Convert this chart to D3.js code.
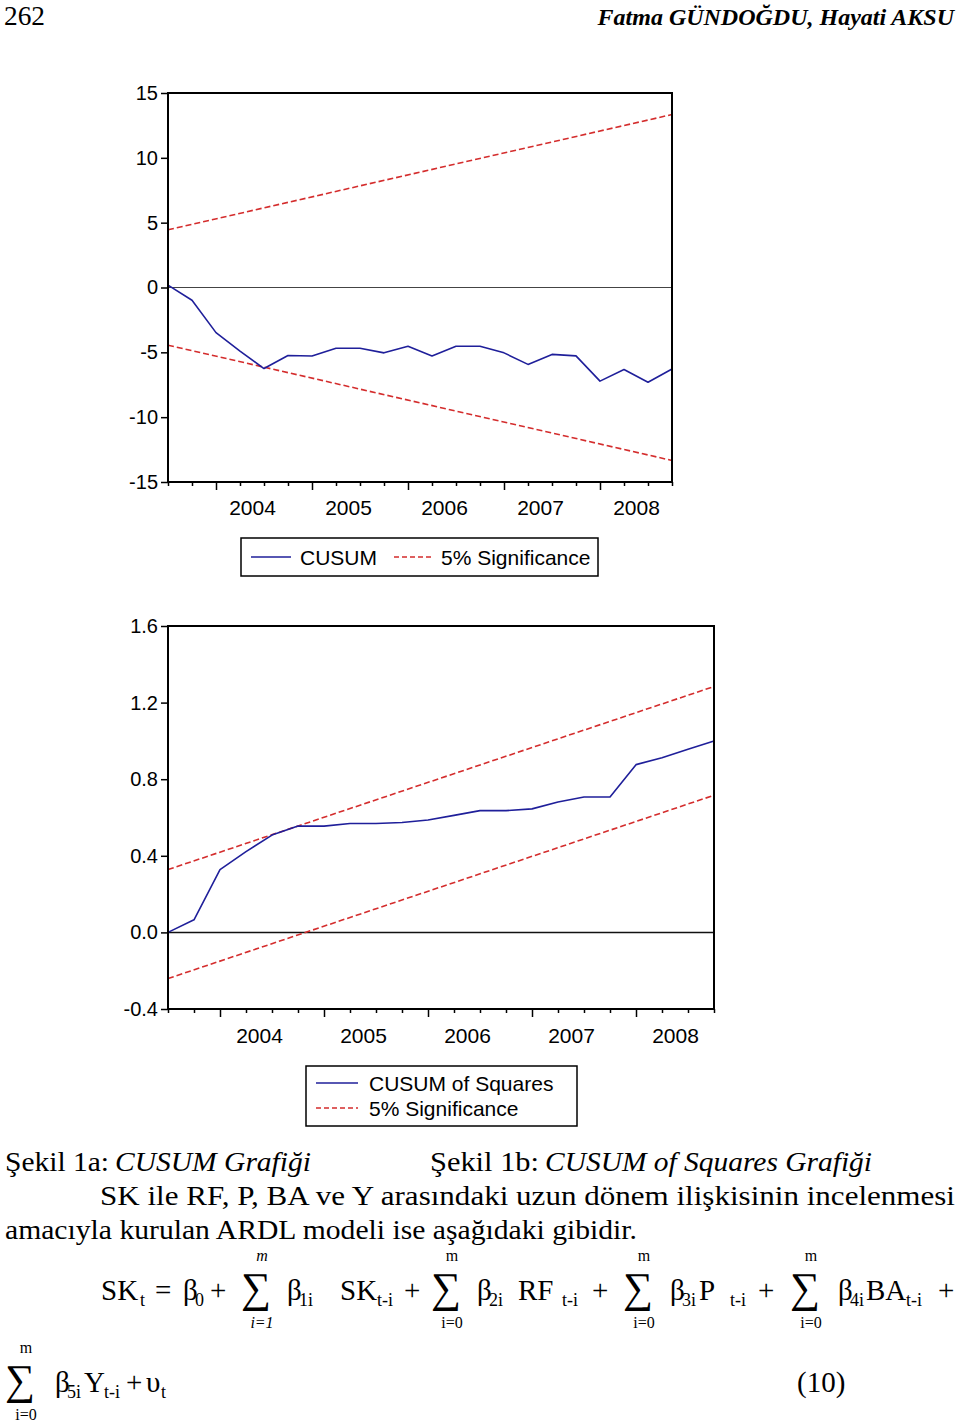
<!DOCTYPE html>
<html>
<head>
<meta charset="utf-8">
<script src="https://cdn.jsdelivr.net/npm/d3@7"></script>
<style>
  html, body { margin: 0; padding: 0; background: #fff; }
  svg { display: block; }
</style>
</head>
<body>
<script>
// ---------------- DATA ----------------
const quarters = ["2003Q3","2003Q4",
  "2004Q1","2004Q2","2004Q3","2004Q4",
  "2005Q1","2005Q2","2005Q3","2005Q4",
  "2006Q1","2006Q2","2006Q3","2006Q4",
  "2007Q1","2007Q2","2007Q3","2007Q4",
  "2008Q1","2008Q2","2008Q3","2008Q4"];
const years = ["2004","2005","2006","2007","2008"];

const cusum = [0.18,-0.98,-3.48,-4.90,-6.25,-5.25,-5.28,-4.68,-4.68,-5.04,-4.53,
               -5.28,-4.53,-4.53,-5.04,-5.93,-5.16,-5.27,-7.22,-6.33,-7.31,-6.28];
const cusumUpper = [4.45, 13.34];   // at first and last quarter
const cusumLower = [-4.45, -13.34];
const cusumTicks = [-15,-10,-5,0,5,10,15];

const cusumSq = [0.000,0.066,0.328,0.422,0.508,0.555,0.555,0.569,0.569,0.574,0.587,
                 0.611,0.636,0.636,0.645,0.681,0.707,0.707,0.876,0.912,0.957,1.000];
const cusumSqUpper = [0.328, 1.284];
const cusumSqLower = [-0.241, 0.716];
const cusumSqTicks = [-0.4,0.0,0.4,0.8,1.2,1.6];

// ---------------- STYLE ----------------
const BLUE = "#1f1f9a", RED = "#d42d2d";
const SANS = "'Liberation Sans', Arial, sans-serif";
const SERIF = "'Liberation Serif', 'Times New Roman', serif";

const svg = d3.select("body").append("svg")
  .attr("width", 960).attr("height", 1425)
  .style("background", "#fff");

const hyph = f => d => f(d).replace("\u2212", "-");

// ---------------- CHART ----------------
function drawChart(o) {
  const g = svg.append("g");
  const n = quarters.length;
  const x = d3.scaleLinear().domain([0, n - 1]).range([o.left, o.right]);
  const y = d3.scaleLinear().domain(o.yDomain).range([o.bottom, o.top]);

  // y axis
  const ya = g.append("g").attr("transform", `translate(${o.left},0)`)
    .call(d3.axisLeft(y).tickValues(o.yTicks).tickSize(7).tickPadding(3).tickFormat(o.yFmt));
  ya.select(".domain").remove();
  ya.selectAll(".tick line").attr("stroke", "#000").attr("stroke-width", 1.5);
  ya.selectAll(".tick text").attr("font-size", 20).attr("font-family", SANS).attr("fill", "#000");

  // x axis: quarter ticks
  const xa = g.append("g").attr("transform", `translate(0,${o.bottom})`)
    .call(d3.axisBottom(x).tickValues(d3.range(n)).tickSize(4).tickFormat(""));
  xa.select(".domain").remove();
  xa.selectAll(".tick line").attr("stroke", "#000").attr("stroke-width", 1.5)
    .attr("y2", d => quarters[d].endsWith("Q1") ? 8 : 4);

  // year labels centred over Q1..Q4
  const centers = years.map(yr => quarters.indexOf(yr + "Q1") + 1.5);
  const xl = g.append("g").attr("transform", `translate(0,${o.bottom})`)
    .call(d3.axisBottom(x).tickValues(centers).tickSize(0).tickPadding(o.labelPad)
      .tickFormat((d, i) => years[i]));
  xl.select(".domain").remove();
  xl.selectAll(".tick text").attr("font-size", 21).attr("font-family", SANS).attr("fill", "#000");

  // zero line
  g.append("line").attr("x1", o.left).attr("x2", o.right)
    .attr("y1", y(0)).attr("y2", y(0))
    .attr("stroke", o.zeroColor).attr("stroke-width", o.zeroWidth);

  // significance lines
  const ends = [0, n - 1];
  const line = d3.line().x(d => x(d[0])).y(d => y(d[1]));
  [o.upper, o.lower].forEach(b => {
    g.append("path").datum(ends.map((q, i) => [q, b[i]]))
      .attr("d", line).attr("fill", "none").attr("stroke", RED)
      .attr("stroke-width", 1.6).attr("stroke-dasharray", "6,3");
  });

  // main series
  g.append("path").datum(o.values.map((v, i) => [i, v]))
    .attr("d", line).attr("fill", "none").attr("stroke", BLUE)
    .attr("stroke-width", 1.6).attr("stroke-linejoin", "round");

  // frame
  g.append("rect").attr("x", o.left).attr("y", o.top)
    .attr("width", o.right - o.left).attr("height", o.bottom - o.top)
    .attr("fill", "none").attr("stroke", "#000").attr("stroke-width", 2);
}

drawChart({left: 168, right: 672, top: 93, bottom: 482,
  yDomain: [-15, 15], yTicks: cusumTicks, yFmt: hyph(d3.format("d")),
  values: cusum, upper: cusumUpper, lower: cusumLower,
  labelPad: 18, zeroColor: "#444", zeroWidth: 1.2});

drawChart({left: 168, right: 714, top: 626, bottom: 1009,
  yDomain: [-0.4, 1.6], yTicks: cusumSqTicks, yFmt: hyph(d3.format(".1f")),
  values: cusumSq, upper: cusumSqUpper, lower: cusumSqLower,
  labelPad: 19, zeroColor: "#111", zeroWidth: 1.5});

// ---------------- LEGENDS ----------------
function legendLine(x1, x2, yy, color, dashed) {
  svg.append("line").attr("x1", x1).attr("x2", x2).attr("y1", yy).attr("y2", yy)
    .attr("stroke", color).attr("stroke-width", 1.6)
    .attr("stroke-dasharray", dashed ? "5,3" : null);
}
function legendText(tx, yy, s) {
  svg.append("text").attr("x", tx).attr("y", yy).text(s)
    .attr("font-size", 21).attr("font-family", SANS).attr("fill", "#000");
}
svg.append("rect").attr("x", 241).attr("y", 538).attr("width", 357).attr("height", 38)
  .attr("fill", "none").attr("stroke", "#000").attr("stroke-width", 1.5);
legendLine(251, 291, 557, BLUE, false);
legendText(300, 565, "CUSUM");
legendLine(394, 434, 557, RED, true);
legendText(441, 565, "5% Significance");

svg.append("rect").attr("x", 306).attr("y", 1066).attr("width", 271).attr("height", 60)
  .attr("fill", "none").attr("stroke", "#000").attr("stroke-width", 1.5);
legendLine(316, 358, 1083, BLUE, false);
legendText(369, 1091, "CUSUM of Squares");
legendLine(316, 358, 1108, RED, true);
legendText(369, 1116, "5% Significance");

// ---------------- PAGE TEXT ----------------
function t(s, x, y, size, opts = {}) {
  const el = svg.append("text").attr("x", x).attr("y", y).text(s)
    .attr("font-size", size).attr("font-family", opts.family || SERIF).attr("fill", "#000");
  if (opts.italic) el.attr("font-style", "italic");
  if (opts.bold) el.attr("font-weight", "bold");
  if (opts.anchor) el.attr("text-anchor", opts.anchor);
  if (opts.len) el.attr("textLength", opts.len).attr("lengthAdjust", "spacingAndGlyphs");
  return el;
}
t("262", 4, 25, 27, {len: 41});
t("Fatma GÜNDOĞDU, Hayati AKSU", 954, 25, 24, {italic: true, bold: true, anchor: "end"});

t("Şekil 1a:", 5, 1171, 28, {len: 104});
t("CUSUM Grafiği", 115, 1171, 28, {italic: true, len: 196});
t("Şekil 1b:", 430, 1171, 28, {len: 109});
t("CUSUM of Squares Grafiği", 545, 1171, 28, {italic: true, len: 327});
t("SK ile RF, P, BA ve Y arasındaki uzun dönem ilişkisinin incelenmesi", 100, 1205, 28, {len: 855});
t("amacıyla kurulan ARDL modeli ise aşağıdaki gibidir.", 5, 1239, 28, {len: 632});

// ---------------- EQUATION ----------------
const EQ = 29, SUB = 18, LIM = 16;
function sigma(cx, base, top, low, italicTop, topLbl, lowLbl) {
  t("∑", cx, base, 42, {anchor: "middle"});
  t(topLbl, cx + 6, top, LIM, {anchor: "middle", italic: italicTop});
  t(lowLbl, cx + 6, low, LIM, {anchor: "middle", italic: italicTop});
}
const L1 = 1300, S1 = 1306;
t("SK", 101, L1, EQ); t("t", 140, S1, SUB);
t("=", 155, L1, EQ);
t("β", 183, L1, EQ); t("0", 195, S1, SUB);
t("+", 210, L1, EQ);
sigma(256, 1302, 1261, 1328, true, "m", "i=1");
t("β", 287, L1, EQ); t("1i", 299, S1, SUB);
t("SK", 340, L1, EQ); t("t-i", 377, S1, SUB);
t("+", 404, L1, EQ);
sigma(446, 1302, 1261, 1328, false, "m", "i=0");
t("β", 477, L1, EQ); t("2i", 489, S1, SUB);
t("RF", 518, L1, EQ); t("t-i", 562, S1, SUB);
t("+", 592, L1, EQ);
sigma(638, 1302, 1261, 1328, false, "m", "i=0");
t("β", 670, L1, EQ); t("3i", 682, S1, SUB); t("P", 699, L1, EQ); t("t-i", 730, S1, SUB);
t("+", 758, L1, EQ);
sigma(805, 1302, 1261, 1328, false, "m", "i=0");
t("β", 838, L1, EQ); t("4i", 850, S1, SUB); t("BA", 866, L1, EQ); t("t-i", 906, S1, SUB);
t("+", 938, L1, EQ);

const L2 = 1392, S2 = 1398;
sigma(20, 1394, 1353, 1420, false, "m", "i=0");
t("β", 55, L2, EQ); t("5i", 67, S2, SUB);
t("Y", 84, L2, EQ); t("t-i", 104, S2, SUB);
t("+", 126, L2, EQ);
t("υ", 146, L2, EQ); t("t", 161, S2, SUB);
t("(10)", 797, L2, EQ);
</script>
</body>
</html>
